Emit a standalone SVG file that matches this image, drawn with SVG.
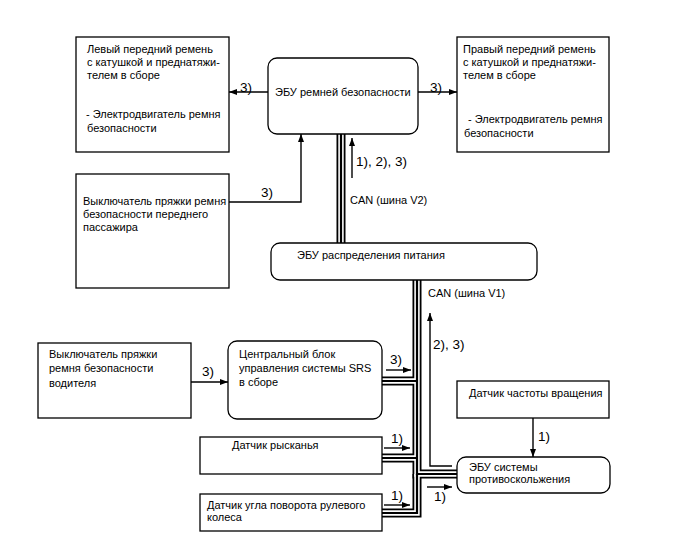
<svg xmlns="http://www.w3.org/2000/svg" xmlns:xlink="http://www.w3.org/1999/xlink" width="688" height="560" viewBox="0 0 688 560">
<style>
text{font-family:"Liberation Sans",Arial,sans-serif;font-size:11px;fill:#000}
.lbl{font-size:13.5px}
.box{fill:#fff;stroke:#000;stroke-width:1.3}
.ln{fill:none;stroke:#000;stroke-width:1.4}
.b1{fill:none;stroke:#000;stroke-width:9}
.b2{fill:none;stroke:#fff;stroke-width:5.4}
.b3{fill:none;stroke:#000;stroke-width:2.2}
</style>
<defs>
<marker id="ah" viewBox="0 0 8 6" refX="8" refY="3" markerWidth="8" markerHeight="6" markerUnits="userSpaceOnUse" orient="auto">
<path d="M0,0 L8,3 L0,6 Z" fill="#000"/>
</marker>
<path id="v2" d="M341,134 V243"/>
<path id="t1" d="M417,280 V474 H457"/>
<path id="t2" d="M382,381 H417"/>
<path id="t3" d="M382,458 H417"/>
<path id="t4" d="M382,513 H417 V474"/>
</defs>
<rect width="688" height="560" fill="#fff"/>

<g id="connectors">
<g class="b1"><use xlink:href="#v2"/><use xlink:href="#t1"/><use xlink:href="#t2"/><use xlink:href="#t3"/><use xlink:href="#t4"/></g>
<g class="b2"><use xlink:href="#v2"/><use xlink:href="#t1"/><use xlink:href="#t2"/><use xlink:href="#t3"/><use xlink:href="#t4"/></g>
<g class="b3"><use xlink:href="#v2"/><use xlink:href="#t1"/><use xlink:href="#t2"/><use xlink:href="#t3"/><use xlink:href="#t4"/></g>
<path class="ln" d="M268,92 H229" marker-end="url(#ah)"/>
<text class="lbl" x="240" y="92">3)</text>
<path class="ln" d="M418,92 H457" marker-end="url(#ah)"/>
<text class="lbl" x="430" y="92">3)</text>
<path class="ln" d="M229,202 H301 V134" marker-end="url(#ah)"/>
<text class="lbl" x="261" y="197">3)</text>
<path class="ln" d="M352,178 V138" marker-end="url(#ah)"/>
<text class="lbl" x="356" y="166">1), 2), 3)</text>
<text x="350" y="204">CAN (шина V2)</text>
<text x="428" y="297">CAN (шина V1)</text>
<path class="ln" d="M452,466 H430 V313" marker-end="url(#ah)"/>
<text class="lbl" x="433" y="349">2), 3)</text>
<path class="ln" d="M191,382 H228" marker-end="url(#ah)"/>
<text class="lbl" x="202" y="376">3)</text>
<path class="ln" d="M386,370 H411" marker-end="url(#ah)"/>
<text class="lbl" x="390" y="364">3)</text>
<path class="ln" d="M384,448 H410" marker-end="url(#ah)"/>
<text class="lbl" x="391" y="443">1)</text>
<path class="ln" d="M384,505 H410" marker-end="url(#ah)"/>
<text class="lbl" x="391" y="500">1)</text>
<path class="ln" d="M427,487 H452" marker-end="url(#ah)"/>
<text class="lbl" x="434" y="501">1)</text>
<path class="ln" d="M533,418 V457" marker-end="url(#ah)"/>
<text class="lbl" x="538" y="441">1)</text>
</g>

<g id="left-belt">
<rect class="box" x="76" y="37" width="153" height="115"/>
<text x="87" y="53">Левый передний ремень</text>
<text x="87" y="66">с катушкой и преднатяжи-</text>
<text x="87" y="79">телем в сборе</text>
<text x="86" y="118">- Электродвигатель ремня</text>
<text x="87" y="132">безопасности</text>
</g>

<g id="belt-ecu">
<rect class="box" x="268" y="58" width="150" height="76" rx="9"/>
<text x="275" y="96">ЭБУ ремней безопасности</text>
</g>

<g id="right-belt">
<rect class="box" x="457" y="37" width="152" height="115"/>
<text x="463" y="53">Правый передний ремень</text>
<text x="463" y="66">с катушкой и преднатяжи-</text>
<text x="463" y="79">телем в сборе</text>
<text x="468" y="123">- Электродвигатель ремня</text>
<text x="464" y="137">безопасности</text>
</g>

<g id="passenger-switch">
<rect class="box" x="76" y="174" width="153" height="114"/>
<text x="83" y="205">Выключатель пряжки ремня</text>
<text x="83" y="218">безопасности переднего</text>
<text x="83" y="231">пассажира</text>
</g>

<g id="power-ecu">
<rect class="box" x="271" y="243" width="266" height="37" rx="9"/>
<text x="297" y="259">ЭБУ распределения питания</text>
</g>

<g id="driver-switch">
<rect class="box" x="38" y="343" width="153" height="75"/>
<text x="49" y="358">Выключатель пряжки</text>
<text x="49" y="372">ремня безопасности</text>
<text x="49" y="387">водителя</text>
</g>

<g id="srs-unit">
<rect class="box" x="228" y="341" width="154" height="78" rx="9"/>
<text x="239" y="358">Центральный блок</text>
<text x="239" y="372">управления системы SRS</text>
<text x="239" y="386">в сборе</text>
</g>

<g id="speed-sensor">
<rect class="box" x="457" y="381" width="152" height="37"/>
<text x="469" y="397">Датчик частоты вращения</text>
</g>

<g id="yaw-sensor">
<rect class="box" x="200" y="437" width="182" height="37"/>
<text x="232" y="449">Датчик рысканья</text>
</g>

<g id="antislip-ecu">
<rect class="box" x="457" y="457" width="153" height="36" rx="9"/>
<text x="469" y="471">ЭБУ системы</text>
<text x="469" y="483">противоскольжения</text>
</g>

<g id="steering-sensor">
<rect class="box" x="200" y="494" width="182" height="37"/>
<text x="207" y="509">Датчик угла поворота рулевого</text>
<text x="207" y="521">колеса</text>
</g>
</svg>
